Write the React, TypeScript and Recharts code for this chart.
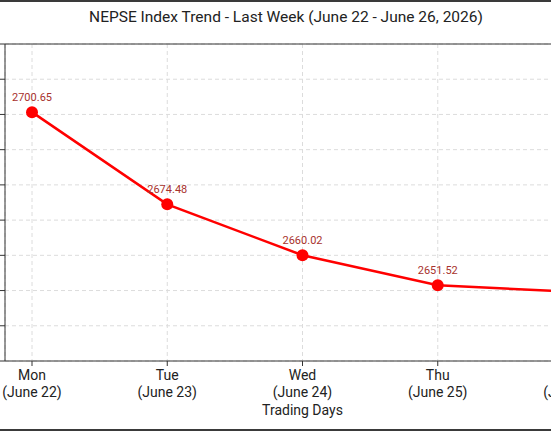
import React from "react";
import { LineChart, Line, XAxis, YAxis, CartesianGrid, LabelList, ReferenceLine } from "recharts";

const days = ["Mon", "Tue", "Wed", "Thu", "Fri"];
const dates = ["(June 22)", "(June 23)", "(June 24)", "(June 25)", "(June 26)"];
const closing = [2700.65, 2674.48, 2660.02, 2651.52, 2649.6];
const yTicks = [2630, 2640, 2650, 2660, 2670, 2680, 2690, 2700, 2710, 2720];

const data = days.map((d, i) => ({ day: d, date: dates[i], value: closing[i] }));

const FONT = "Roboto, 'Noto Sans', sans-serif";

function DayTick(props: any) {
  const { x, y, payload, index } = props;
  return (
    <text x={x} y={y} textAnchor="middle" fill="#222" fontSize={14} fontFamily={FONT}>
      <tspan x={x} dy={12}>{payload.value}</tspan>
      <tspan x={x} dy={17}>{dates[index]}</tspan>
    </text>
  );
}

// tick labels of the y axis fall outside the cropped view
const NoLabel = () => <g />;

export default function App() {
  return (
    <div style={{ position: "absolute", left: 0, top: 0, width: 551, height: 431, overflow: "hidden", background: "#fff" }}>
      <div style={{ position: "absolute", left: 0, top: 0, width: 551, height: 2, background: "#3a3a3a" }} />
      <div style={{ position: "absolute", left: 0, top: 429, width: 551, height: 2, background: "#3a3a3a" }} />
      <div style={{ position: "absolute", left: 0, top: 8, width: 572, textAlign: "center", fontFamily: FONT, fontSize: 15.5, color: "#222" }}>
        NEPSE Index Trend - Last Week (June 22 - June 26, 2026)
      </div>
      <div style={{ position: "absolute", left: -55, top: 0 }}>
        <LineChart width={665} height={431} data={data} margin={{ top: 44, right: 10, bottom: 0, left: 0 }}>
          <CartesianGrid stroke="#dcdcdc" strokeDasharray="4 3" />
          <XAxis
            dataKey="day"
            padding={{ left: 27, right: 27 }}
            stroke="#333"
            tickSize={5}
            tick={<DayTick />}
            interval={0}
            height={70}
            label={{ value: "Trading Days", position: "insideBottom", offset: 16, fill: "#222", fontSize: 14, fontFamily: FONT }}
          />
          <YAxis
            domain={[2630, 2720]}
            ticks={yTicks}
            width={60}
            stroke="#333"
            tickSize={5}
            tick={<NoLabel />}
          />
          <ReferenceLine y={2720} stroke="#333" />
          <Line
            type="linear"
            dataKey="value"
            stroke="#ff0000"
            strokeWidth={2.5}
            dot={{ r: 6, fill: "#ff0000", stroke: "#ff0000", strokeWidth: 0 }}
            activeDot={false}
            isAnimationActive={false}
          >
            <LabelList dataKey="value" position="top" offset={11} fill="#a8322d" fontSize={11} fontFamily={FONT} formatter={(v: any) => Number(v).toFixed(2)} />
          </Line>
        </LineChart>
      </div>
    </div>
  );
}
